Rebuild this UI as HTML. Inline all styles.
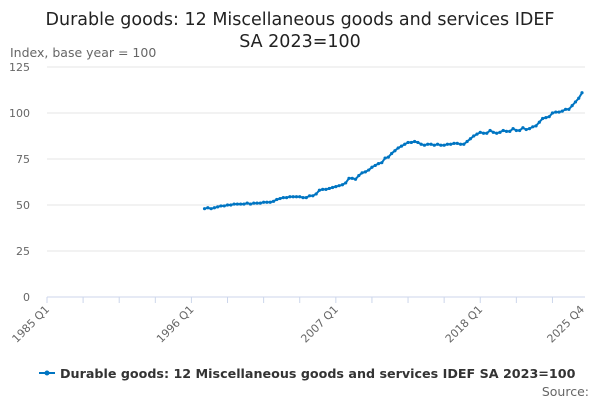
<!DOCTYPE html>
<html><head><meta charset="utf-8"><style>
body{margin:0;background:#fff;font-family:"DejaVu Sans","Liberation Sans",sans-serif;}
</style></head><body>
<svg width="600" height="400" xmlns="http://www.w3.org/2000/svg" font-family="DejaVu Sans, Liberation Sans, sans-serif">
<text x="300" y="25" text-anchor="middle" font-size="17.5" fill="#222">Durable goods: 12 Miscellaneous goods and services IDEF</text>
<text x="300" y="47" text-anchor="middle" font-size="17.5" fill="#222">SA 2023=100</text>
<text x="10" y="57" font-size="12.5" fill="#666">Index, base year = 100</text>
<g id="grid"></g><g id="xaxis"></g>
<path id="line" fill="none" stroke="#0075c2" stroke-width="2"></path>
<g id="pts"></g>
<g>
<line x1="39" y1="373" x2="55" y2="373" stroke="#0075c2" stroke-width="2"/>
<circle cx="47" cy="373" r="2.5" fill="#0075c2"/>
<text x="60" y="378" font-size="12.7" font-weight="bold" fill="#333">Durable goods: 12 Miscellaneous goods and services IDEF SA 2023=100</text>
</g>
<text x="589" y="396" text-anchor="end" font-size="12.5" fill="#666">Source:</text>
</svg>
<script>
const yTicks=[0,25,50,75,100,125];
const xTickLabels=["1985 Q1","1996 Q1","2007 Q1","2018 Q1","2025 Q4"];
const xTickIdx=[0,44,88,132,163];
const startIdx=48;
const values=[48,48.5,48,48.5,49,49.5,49.5,50,50,50.5,50.5,50.5,50.5,51,50.5,51,51,51,51.5,51.5,51.5,52,53,53.5,54,54,54.5,54.5,54.5,54.5,54,54,55,55,56,58,58.5,58.5,59,59.5,60,60.5,61,62,64.5,64.5,64,66,67.5,68,69,70.5,71.5,72.5,73,75.5,76,78,79.5,81,82,83,84,84,84.5,84,83,82.5,83,83,82.5,83,82.5,82.5,83,83,83.5,83.5,83,83,84.5,86,87.5,88.5,89.5,89,89,90.5,89.5,89,89.5,90.5,90,90,91.5,90.5,90.5,92,91,91.5,92.5,93,95,97,97.5,98,100,100.5,100.5,101,102,102,104,106,108,111];
const NS="http://www.w3.org/2000/svg";
const X=i=>47+i*(582-47)/163, Y=v=>297-v*(297-67)/125;
const grid=document.getElementById('grid'),xa=document.getElementById('xaxis'),pts=document.getElementById('pts');
yTicks.forEach(t=>{
 const l=document.createElementNS(NS,'line');
 l.setAttribute('x1',47);l.setAttribute('x2',585);l.setAttribute('y1',Y(t));l.setAttribute('y2',Y(t));
 l.setAttribute('stroke',t===0?'#ccd6eb':'#e6e6e6');
 
 
 grid.appendChild(l);
 const tx=document.createElementNS(NS,'text');
 tx.setAttribute('x',30);tx.setAttribute('y',Y(t)+4);tx.setAttribute('text-anchor','end');
 tx.setAttribute('font-size','11');tx.setAttribute('fill','#666');tx.textContent=t;
 
 
 grid.appendChild(tx);
});
for(let i=0;i<=163;i+=11){
 const l=document.createElementNS(NS,'line');
 const xi=i>154?163:i;
 l.setAttribute('x1',X(xi));l.setAttribute('x2',X(xi));l.setAttribute('y1',297);l.setAttribute('y2',303);
 l.setAttribute('stroke','#ccd6eb');
 
 
 xa.appendChild(l);
}
xTickLabels.forEach((s,k)=>{
 const x=X(xTickIdx[k]);
 const tx=document.createElementNS(NS,'text');
 tx.setAttribute('x',x+3);tx.setAttribute('y',310);tx.setAttribute('text-anchor','end');
 tx.setAttribute('font-size','11');tx.setAttribute('fill','#666');
 tx.setAttribute('transform',`rotate(-45 ${x+3} 310)`);tx.textContent=s;
 
 
 xa.appendChild(tx);
});
let d='';
values.forEach((v,k)=>{
 const x=X(startIdx+k),y=Y(v);
 d+=(k?'L':'M')+x.toFixed(1)+' '+y.toFixed(1);
 const c=document.createElementNS(NS,'circle');
 c.setAttribute('cx',x);c.setAttribute('cy',y);c.setAttribute('r',1.6);c.setAttribute('fill','#0075c2');
 
 
 pts.appendChild(c);
});
document.getElementById('line').setAttribute('d',d);
</script>
</body></html>
